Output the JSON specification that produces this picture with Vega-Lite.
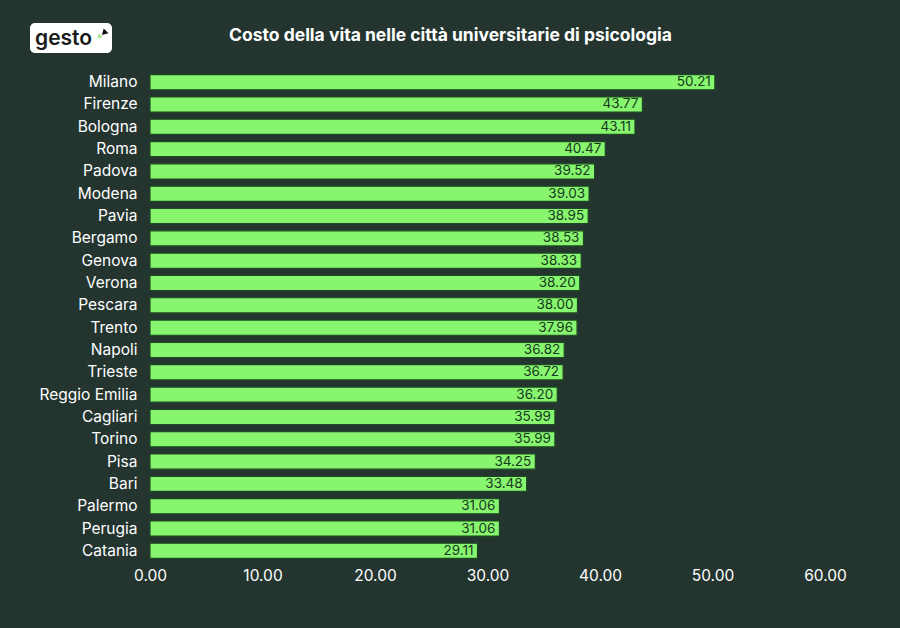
{
  "$schema": "https://vega.github.io/schema/vega-lite/v6.json",
  "width": 675,
  "height": 491,
  "autosize": {"type": "none"},
  "padding": {"left": 150, "top": 71, "right": 75, "bottom": 66},
  "background": "#243530",
  "config": {
    "view": {"stroke": null},
    "font": "Inter"
  },
  "title": {
    "text": "Costo della vita nelle città universitarie di psicologia",
    "color": "#ffffff",
    "fontSize": 17.5,
    "fontWeight": "bold",
    "font": "Inter",
    "anchor": "middle",
    "frame": "group",
    "dx": -37,
    "offset": -21
  },
  "datasets": {
    "costs": [
      {"city": "Milano", "cost": 50.21},
      {"city": "Firenze", "cost": 43.77},
      {"city": "Bologna", "cost": 43.11},
      {"city": "Roma", "cost": 40.47},
      {"city": "Padova", "cost": 39.52},
      {"city": "Modena", "cost": 39.03},
      {"city": "Pavia", "cost": 38.95},
      {"city": "Bergamo", "cost": 38.53},
      {"city": "Genova", "cost": 38.33},
      {"city": "Verona", "cost": 38.20},
      {"city": "Pescara", "cost": 38.00},
      {"city": "Trento", "cost": 37.96},
      {"city": "Napoli", "cost": 36.82},
      {"city": "Trieste", "cost": 36.72},
      {"city": "Reggio Emilia", "cost": 36.20},
      {"city": "Cagliari", "cost": 35.99},
      {"city": "Torino", "cost": 35.99},
      {"city": "Pisa", "cost": 34.25},
      {"city": "Bari", "cost": 33.48},
      {"city": "Palermo", "cost": 31.06},
      {"city": "Perugia", "cost": 31.06},
      {"city": "Catania", "cost": 29.11}
    ],
    "logo": [{"logo": "gesto"}]
  },
  "layer": [
    {
      "data": {"name": "costs"},
      "mark": {"type": "bar", "color": "#88f56f", "stroke": "#1c4a22", "strokeWidth": 1.2},
      "encoding": {
        "y": {
          "field": "city",
          "type": "nominal",
          "sort": null,
          "scale": {"paddingInner": 0.32, "paddingOuter": 0.16},
          "axis": {
            "title": null,
            "domain": false,
            "ticks": false,
            "labelColor": "#ffffff",
            "labelFontSize": 15.5,
            "labelFont": "Inter",
            "labelPadding": 13
          }
        },
        "x": {
          "field": "cost",
          "type": "quantitative",
          "scale": {"domain": [0, 60], "nice": false},
          "axis": {
            "title": null,
            "domain": false,
            "ticks": false,
            "grid": false,
            "values": [0, 10, 20, 30, 40, 50, 60],
            "format": ".2f",
            "labelColor": "#ffffff",
            "labelFontSize": 15.5,
            "labelFont": "Inter",
            "labelPadding": 6,
            "labelFlush": false
          }
        }
      }
    },
    {
      "data": {"name": "costs"},
      "mark": {"type": "text", "align": "right", "dx": -4, "color": "#173a1e", "fontSize": 13.5, "font": "Inter"},
      "encoding": {
        "y": {"field": "city", "type": "nominal", "sort": null},
        "x": {"field": "cost", "type": "quantitative"},
        "text": {"field": "cost", "type": "quantitative", "format": ".2f"}
      }
    },
    {
      "data": {"name": "logo"},
      "mark": {"type": "rect", "color": "#ffffff", "cornerRadius": 5, "x": -120, "x2": -38, "y": -48, "y2": -18},
      "encoding": {}
    },
    {
      "data": {"name": "logo"},
      "mark": {"type": "text", "align": "left", "baseline": "alphabetic", "x": -115, "y": -26, "fontSize": 21, "fontWeight": 600, "color": "#1a1a1a", "font": "Inter"},
      "encoding": {"text": {"field": "logo", "type": "nominal"}}
    },
    {
      "data": {"name": "logo"},
      "mark": {"type": "point", "shape": "triangle-down", "filled": true, "opacity": 1, "color": "#a6e89a", "size": 30, "x": -51, "y": -34, "angle": 45},
      "encoding": {}
    },
    {
      "data": {"name": "logo"},
      "mark": {"type": "point", "shape": "triangle-down", "filled": true, "opacity": 1, "color": "#111111", "size": 45, "x": -46, "y": -38, "angle": 45},
      "encoding": {}
    }
  ]
}
